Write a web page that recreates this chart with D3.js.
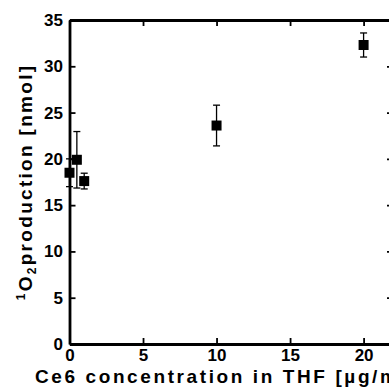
<!DOCTYPE html>
<html>
<head>
<meta charset="utf-8">
<script src="https://cdn.jsdelivr.net/npm/d3@7"></script>
<style>
  body { margin: 0; background: #fff; }
  svg { display: block; font-family: "Liberation Sans", Arial, sans-serif; }
  .tick text { font-size: 17px; font-weight: bold; fill: #000; }
  .axis-label { font-size: 19px; font-weight: bold; letter-spacing: 2.3px; fill: #000; }
  .x-label { letter-spacing: 2.6px; }
</style>
</head>
<body>
<div id="chart"></div>
<script>
// Ce6 concentration (µg/mL) vs singlet oxygen production (nmol)
const conc = [0, 0.5, 1, 10, 20];
const production = [18.5, 19.9, 17.6, 23.6, 32.3];
const errors = [1.5, 3.05, 0.85, 2.2, 1.3];
const xTicks = [0, 5, 10, 15, 20];
const yTicks = [0, 5, 10, 15, 20, 25, 30, 35];

const W = 389, H = 387;
const margin = { top: 20, right: -4, bottom: 43, left: 69.5 };
const innerW = W - margin.left - margin.right;
const innerH = H - margin.top - margin.bottom;

const svg = d3.select("#chart").append("svg")
  .attr("width", W)
  .attr("height", H);

const g = svg.append("g")
  .attr("transform", `translate(${margin.left},${margin.top})`);

const x = d3.scaleLinear().domain([0, 22]).range([0, innerW]);
const y = d3.scaleLinear().domain([0, 35]).range([innerH, 0]);

// axes: ticks point inward on all four sides
function styleAxis(sel) {
  sel.select(".domain").attr("stroke", "#000").attr("stroke-width", 2.8);
  sel.selectAll(".tick line").attr("stroke", "#000").attr("stroke-width", 1.8);
}

g.append("g")
  .attr("transform", `translate(0,${innerH})`)
  .call(d3.axisBottom(x).tickValues(xTicks).tickSize(-6).tickPadding(5).tickSizeOuter(0))
  .call(styleAxis);

g.append("g")
  .call(d3.axisTop(x).tickValues(xTicks).tickSize(-6).tickFormat("").tickSizeOuter(0))
  .call(styleAxis);

g.append("g")
  .call(d3.axisLeft(y).tickValues(yTicks).tickSize(-6).tickPadding(6.5).tickSizeOuter(0))
  .call(styleAxis);

g.append("g")
  .attr("transform", `translate(${innerW},0)`)
  .call(d3.axisRight(y).tickValues(yTicks).tickSize(-6).tickFormat("").tickSizeOuter(0))
  .call(styleAxis);

g.selectAll(".tick text").attr("fill", "#000");

// error bars
const pts = conc.map((c, i) => ({ c, v: production[i], e: errors[i] }));
const cap = 3.5;

const eb = g.append("g").attr("stroke", "#000").attr("stroke-width", 1.3);
eb.selectAll(".stem").data(pts).join("line")
  .attr("x1", d => x(d.c)).attr("x2", d => x(d.c))
  .attr("y1", d => y(d.v - d.e)).attr("y2", d => y(d.v + d.e));
eb.selectAll(".capTop").data(pts).join("line")
  .attr("x1", d => x(d.c) - cap).attr("x2", d => x(d.c) + cap)
  .attr("y1", d => y(d.v + d.e)).attr("y2", d => y(d.v + d.e));
eb.selectAll(".capBot").data(pts).join("line")
  .attr("x1", d => x(d.c) - cap).attr("x2", d => x(d.c) + cap)
  .attr("y1", d => y(d.v - d.e)).attr("y2", d => y(d.v - d.e));

// square markers
const S = 10;
g.selectAll(".pt").data(pts).join("rect")
  .attr("x", d => x(d.c) - S / 2)
  .attr("y", d => y(d.v) - S / 2)
  .attr("width", S).attr("height", S)
  .attr("fill", "#000");

// axis titles
const yl = svg.append("text")
  .attr("class", "axis-label")
  .attr("text-anchor", "middle")
  .attr("transform", `translate(32,${margin.top + innerH / 2}) rotate(-90)`);
yl.append("tspan").attr("font-size", "12px").attr("dy", "-7").text("1");
yl.append("tspan").attr("dy", "7").text("O");
yl.append("tspan").attr("font-size", "12px").attr("dy", "4").text("2");
yl.append("tspan").attr("dy", "-4").text("production [nmol]");

svg.append("text")
  .attr("class", "axis-label x-label")
  .attr("x", 35).attr("y", 383)
  .text("Ce6 concentration in THF [µg/mL]");
</script>
</body>
</html>
